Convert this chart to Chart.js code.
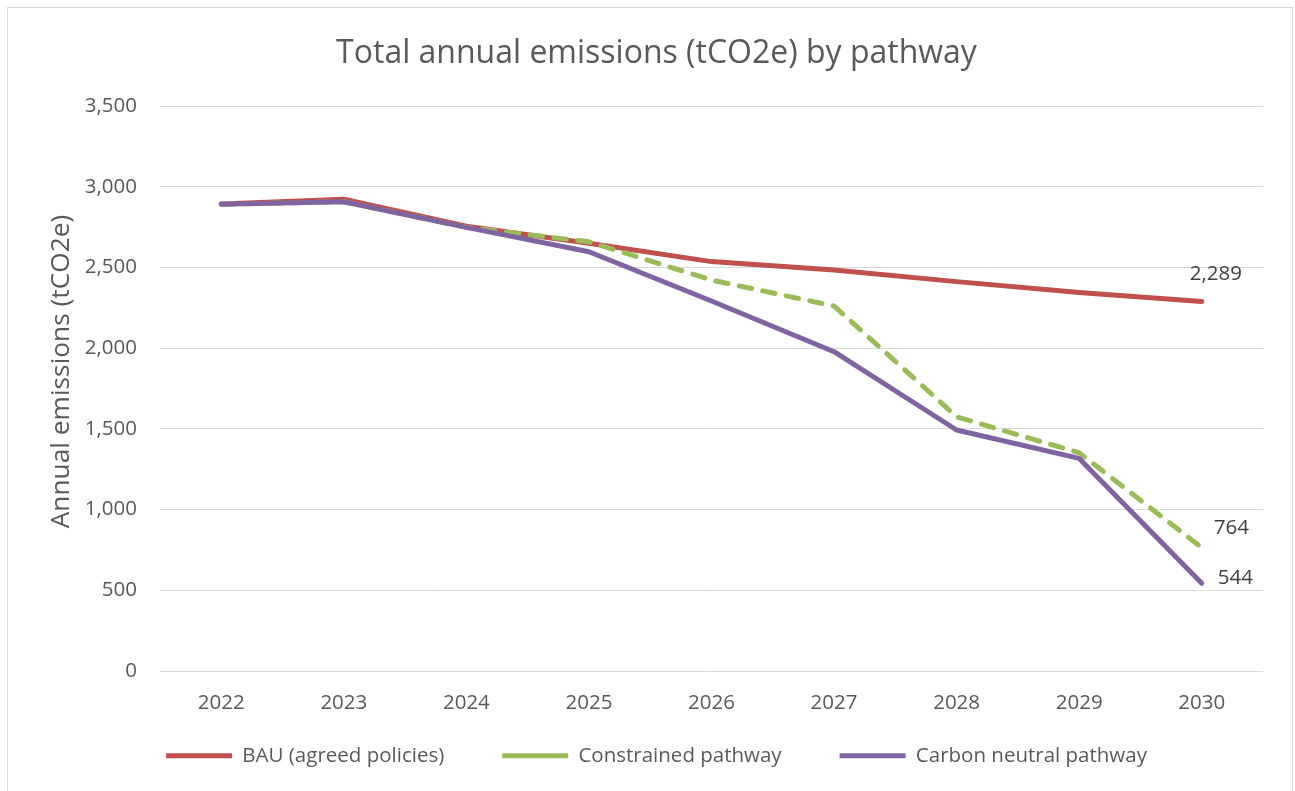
<!DOCTYPE html>
<html><head><meta charset="utf-8">
<script src="https://cdn.jsdelivr.net/npm/chart.js@4.4.1/dist/chart.umd.min.js"></script>
<style>
html,body{margin:0;padding:0;background:#fff;overflow:hidden;width:1295px;height:791px;}
#frame{position:absolute;left:7px;top:7px;width:1286px;height:800px;border:1px solid #d9d9d9;box-sizing:border-box;}
#c{position:absolute;left:0;top:0;}
</style></head><body>
<div id="frame"></div>
<canvas id="c" width="1295" height="791"></canvas>
<script>
const years = ['2022', '2023', '2024', '2025', '2026', '2027', '2028', '2029', '2030'];
const bau = [2893, 2922, 2755, 2650, 2536, 2484, 2412, 2344, 2289];
const constrained = [2891, 2907, 2748, 2659, 2422, 2261, 1575, 1352, 764];
const carbonNeutral = [2891, 2907, 2748, 2597, 2292, 1978, 1493, 1317, 544];
const seriesNames = ['BAU (agreed policies)', 'Constrained pathway', 'Carbon neutral pathway'];
const chartTitle = 'Total annual emissions (tCO2e) by pathway';
const yAxisTitle = 'Annual emissions (tCO2e)';

const FONT = '"Open Sans", sans-serif';
const TXT = '#595959';

const endLabels = {
  id: 'endLabels',
  afterDatasetsDraw(chart, args, opts) {
    const ctx = chart.ctx;
    ctx.save();
    ctx.font = '20.5px ' + FONT;
    ctx.fillStyle = '#404040';
    ctx.textAlign = 'left';
    ctx.textBaseline = 'middle';
    chart.data.datasets.forEach((ds, i) => {
      const meta = chart.getDatasetMeta(i);
      const n = ds.data.length - 1;
      const pt = meta.data[n];
      const off = opts.offsets[i];
      ctx.fillText(ds.data[n].toLocaleString('en-US'), pt.x + off[0], pt.y + off[1]);
    });
    ctx.restore();
  }
};

const yTitle = {
  id: 'yTitle',
  afterDraw(chart, args, opts) {
    const ctx = chart.ctx;
    const a = chart.chartArea;
    ctx.save();
    ctx.font = opts.size + 'px ' + FONT;
    ctx.fillStyle = TXT;
    ctx.textAlign = 'center';
    ctx.textBaseline = 'middle';
    ctx.translate(opts.x, (a.top + a.bottom) / 2 + opts.shift);
    ctx.rotate(-Math.PI / 2);
    ctx.fillText(opts.text, 0, 0);
    ctx.restore();
  }
};

function build() {
  new Chart(document.getElementById('c'), {
    type: 'line',
    data: {
      labels: years,
      datasets: [
        {label: seriesNames[0], data: bau, borderColor: '#C0504D', backgroundColor: '#C0504D', order: 3},
        {label: seriesNames[1], data: constrained, borderColor: '#9BBB59', backgroundColor: '#9BBB59', borderDash: [12.5, 11.5], order: 2},
        {label: seriesNames[2], data: carbonNeutral, borderColor: '#8064A2', backgroundColor: '#8064A2', order: 1}
      ].map(d => Object.assign({borderWidth: 5, pointRadius: 0, pointHoverRadius: 0, tension: 0, fill: false, borderCapStyle: 'round', borderJoinStyle: 'round'}, d))
    },
    options: {
      responsive: false,
      animation: false,
      devicePixelRatio: 1,
      events: [],
      layout: {padding: {left: 50, right: 32, top: 10, bottom: 15}},
      plugins: {
        title: {
          display: true, text: chartTitle, color: TXT,
          font: {family: FONT, size: 32, weight: 'normal', lineHeight: 1.2},
          padding: {top: 24.8, bottom: 32.8}
        },
        legend: {
          position: 'bottom',
          labels: {
            usePointStyle: true, pointStyle: 'line', pointStyleWidth: 66, padding: 58,
            color: TXT, font: {family: FONT, size: 20.5},
            sort: (a, b) => a.datasetIndex - b.datasetIndex
          }
        },
        tooltip: {enabled: false},
        endLabels: {offsets: [[-12, -27], [12, -20], [16, -5]]},
        yTitle: {text: yAxisTitle, size: 26.3, x: 62, shift: -17}
      },
      scales: {
        x: {
          offset: true,
          grid: {display: false, drawTicks: false},
          border: {display: false},
          ticks: {color: TXT, font: {family: FONT, size: 20.5}, padding: 20},
          afterFit(s) { s.height = 16.5; s._computeLabelArea = () => null; }
        },
        y: {
          min: 0, max: 3500,
          grid: {color: '#d9d9d9', lineWidth: 1, drawTicks: false},
          border: {display: false},
          ticks: {stepSize: 500, color: TXT, font: {family: FONT, size: 20.5}, padding: 23,
                  callback: v => Number(v).toLocaleString('en-US')},
          afterFit(s) { s.width = 110; }
        }
      }
    },
    plugins: [endLabels, yTitle]
  });
}

Promise.all([
  document.fonts.load('20px "Open Sans"'),
  document.fonts.load('32px "Open Sans"')
]).then(build, build);
</script>
</body></html>
